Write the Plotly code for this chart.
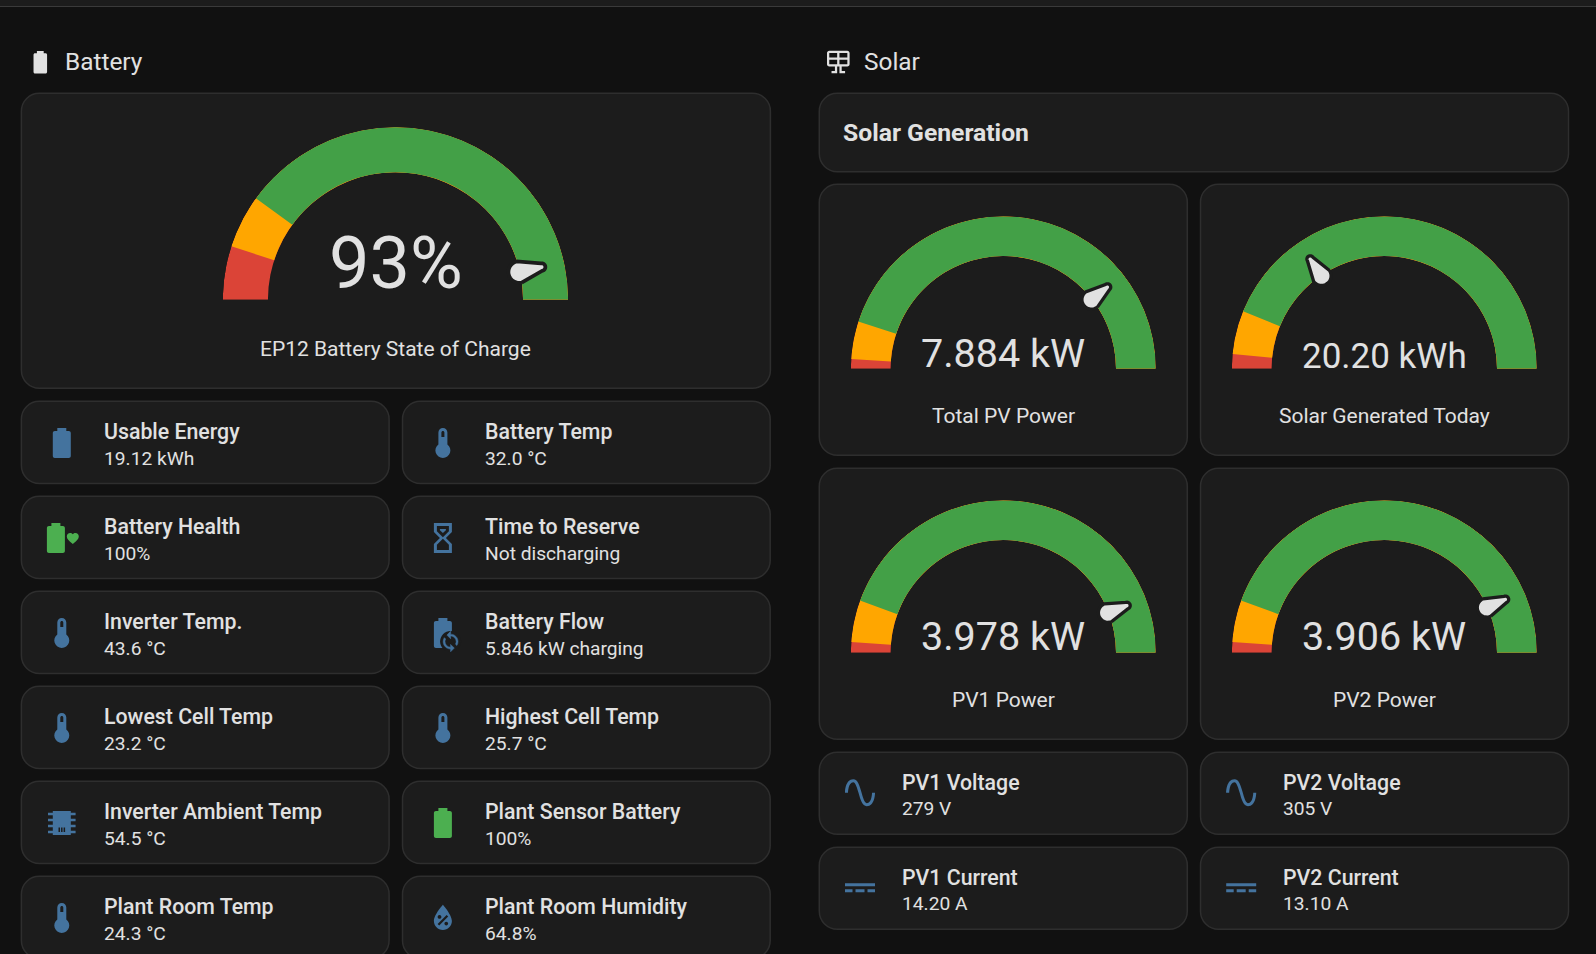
import math
import re
import plotly.graph_objects as go

# ---------- data ----------
section_titles = ["Battery", "Solar"]
solar_heading = "Solar Generation"

gauge_names = ["EP12 Battery State of Charge", "Total PV Power", "Solar Generated Today", "PV1 Power", "PV2 Power"]
gauge_labels = ["93%", "7.884 kW", "20.20 kWh", "3.978 kW", "3.906 kW"]
gauge_values = [93, 7.884, 20.20, 3.978, 3.906]
gauge_max = [100, 10, 65, 4.5, 4.5]
gauge_orange_from = [10, 0.2, 2, 0.1, 0.1]
gauge_green_from = [20, 1, 8, 0.5, 0.5]

battery_tile_names = ["Usable Energy", "Battery Temp", "Battery Health", "Time to Reserve", "Inverter Temp.",
                      "Battery Flow", "Lowest Cell Temp", "Highest Cell Temp", "Inverter Ambient Temp",
                      "Plant Sensor Battery", "Plant Room Temp", "Plant Room Humidity"]
battery_tile_values = ["19.12 kWh", "32.0 °C", "100%", "Not discharging", "43.6 °C", "5.846 kW charging",
                       "23.2 °C", "25.7 °C", "54.5 °C", "100%", "24.3 °C", "64.8%"]
battery_tile_icons = ["battery", "thermo", "batheart", "sand", "thermo", "batsync", "thermo", "thermo",
                      "chip", "battery", "thermo", "water"]
battery_tile_green = [False, False, True, False, False, False, False, False, False, True, False, False]

pv_tile_names = ["PV1 Voltage", "PV2 Voltage", "PV1 Current", "PV2 Current"]
pv_tile_values = ["279 V", "305 V", "14.20 A", "13.10 A"]
pv_tile_icons = ["sine", "sine", "dc", "dc"]

# ---------- style ----------
W, H = 1596, 954
PAGE = "#111111"
CARD = "#1c1c1c"
BORDER = "#2e2e2e"
TEXT = "#e1e1e1"
BLUE = "#44739e"
TILE_GREEN = "#4caf50"
RED, ORANGE, GREEN = "#db4437", "#ffa600", "#43a047"
FONT = "Roboto"

# gauge geometry (px): centre x, baseline y, outer radius, value font size, value y, name y
gauge_geom = [
    (395.5, 299.7, 172.6, 72, 264.0, 349.0),
    (1003.3, 368.7, 152.5, 39.5, 353.5, 415.7),
    (1384.3, 368.7, 152.5, 35, 356.0, 415.7),
    (1003.3, 652.7, 152.5, 39.5, 636.0, 700.0),
    (1384.3, 652.7, 152.5, 39.5, 636.0, 700.0),
]
RING_OUT, RING_IN = 46.0, 34.0  # gauge units

# ---------- icon glyphs on a 24-unit grid ----------
P_BATTERY = "M16.67,4H15V2H9V4H7.33A1.33,1.33 0 0,0 6,5.33V20.67C6,21.4 6.6,22 7.33,22H16.67A1.33,1.33 0 0,0 18,20.67V5.33C18,4.6 17.4,4 16.67,4Z"
P_THERMO = "M15 13V5A3 3 0 0 0 9 5V13A5 5 0 1 0 15 13M12 4A1 1 0 0 1 13 5V8H11V5A1 1 0 0 1 12 4Z"
P_SAND = "M6,2H18V8L14,12L18,16V22H6V16L10,12L6,8V2M16,16.5L12,12.5L8,16.5V20H16V16.5M12,11.5L16,7.5V4H8V7.5L12,11.5M10,6H14V6.75L12,8.75L10,6.75V6Z"
P_SINE = "M16.5,21C13.5,21 12.31,16.76 11.05,12.28C10.14,9.04 9,5 7.5,5C4.11,5 4,11.93 4,12H2C2,11.63 2.06,3 7.5,3C10.5,3 11.71,7.25 12.97,11.74C13.83,14.8 15,19 16.5,19C19.94,19 20.03,12.07 20.03,12H22.03C22.03,12.37 21.97,21 16.5,21Z"
P_DC = "M2,9H22V11H2V9M2,13H7V15H2V13M9,13H15V15H9V13M17,13H22V15H17V13Z"
P_SOLAR = "M4,2H20A2,2 0 0,1 22,4V14A2,2 0 0,1 20,16H15V20H18V22H13V16H11V22H6V20H9V16H4A2,2 0 0,1 2,14V4A2,2 0 0,1 4,2M4,4V8H11V4H4M4,14H11V10H4V14M20,14V10H13V14H20M20,4H13V8H20V4Z"
P_WATER = "M12,3.25C12,3.25 6,10 6,14C6,17.32 8.69,20 12,20A6,6 0 0,0 18,14C18,10 12,3.25 12,3.25M14.47,9.97L15.53,11.03L9.53,17.03L8.47,15.97M9.75,10A1.25,1.25 0 0,1 11,11.25A1.25,1.25 0 0,1 9.75,12.5A1.25,1.25 0 0,1 8.5,11.25A1.25,1.25 0 0,1 9.75,10M14.25,14.5A1.25,1.25 0 0,1 15.5,15.75A1.25,1.25 0 0,1 14.25,17A1.25,1.25 0 0,1 13,15.75A1.25,1.25 0 0,1 14.25,14.5Z"
P_HEART = "M12,21.35L10.55,20.03C5.4,15.36 2,12.27 2,8.5C2,5.41 4.42,3 7.5,3C9.24,3 10.91,3.81 12,5.08C13.09,3.81 14.76,3 16.5,3C19.58,3 22,5.41 22,8.5C22,12.27 18.6,15.36 13.45,20.03L12,21.35Z"
P_SYNC = "M12,18A6,6 0 0,1 6,12C6,11 6.25,10.03 6.7,9.2L5.24,7.74C4.46,8.97 4,10.43 4,12A8,8 0 0,0 12,20V23L16,19L12,15V18M12,6A6,6 0 0,1 18,12C18,13 17.75,13.97 17.3,14.8L18.76,16.26C19.54,15.03 20,13.57 20,12A8,8 0 0,0 12,4V1L8,5L12,9V6Z"
P_DISC = "M12,2A10,10 0 0,1 12,22A10,10 0 0,1 12,2Z"
P_CHIP = ("M6,4H18V20H6ZM9.8,15H10.8V18H9.8ZM11.5,15H12.5V18H11.5ZM13.2,15H14.2V18H13.2Z"
          "M2.8,5.2H6V6.8H2.8ZM2.8,9.2H6V10.8H2.8ZM2.8,13.2H6V14.8H2.8ZM2.8,17.2H6V18.8H2.8Z"
          "M18,5.2H21.2V6.8H18ZM18,9.2H21.2V10.8H18ZM18,13.2H21.2V14.8H18ZM18,17.2H21.2V18.8H18Z")

# each glyph part: path, scale multiplier, dx px, dy px, use card colour, outline width
ICONS = {
    "battery": [(P_BATTERY, 1, 0, 0, False, 0)],
    "thermo": [(P_THERMO, 1, 0, 0, False, 0)],
    "sand": [(P_SAND, 1, 0, 0, False, 0)],
    "sine": [(P_SINE, 1, 0, 0, False, 0)],
    "dc": [(P_DC, 1, 0, 0, False, 0)],
    "solar": [(P_SOLAR, 1, 0, 0, False, 0)],
    "water": [(P_WATER, 1, 0, 0, False, 0)],
    "chip": [(P_CHIP, 1, 0, 0, False, 0)],
    "batheart": [(P_BATTERY, 1, -5.9, 0, False, 0), (P_HEART, 0.4, 11, 0.5, False, 0)],
    "batsync": [(P_BATTERY, 1, 0, 0, False, 0), (P_DISC, 0.7, 7.7, 8.6, True, 0), (P_SYNC, 0.62, 7.7, 8.6, False, 0.5)],
}


def arc_to_cubics(x0, y0, rx, ry, large, sweep, x1, y1):
    """SVG endpoint arc (circular, no rotation) as cubic segments."""
    dx, dy = (x0 - x1) / 2, (y0 - y1) / 2
    r = max(rx, math.hypot(dx, dy))
    q = math.sqrt(max(0.0, r * r - dx * dx - dy * dy) / max(dx * dx + dy * dy, 1e-12))
    s = -q if large == sweep else q
    cx = s * dy + (x0 + x1) / 2
    cy = -s * dx + (y0 + y1) / 2
    a0 = math.atan2(y0 - cy, x0 - cx)
    a1 = math.atan2(y1 - cy, x1 - cx)
    da = a1 - a0
    if sweep and da < 0:
        da += 2 * math.pi
    if not sweep and da > 0:
        da -= 2 * math.pi
    n = max(1, math.ceil(abs(da) / (math.pi / 2)))
    out = []
    step = da / n
    k = 4 / 3 * math.tan(step / 4)
    for i in range(n):
        a = a0 + i * step
        b = a + step
        out.append((cx + r * (math.cos(a) - k * math.sin(a)), cy + r * (math.sin(a) + k * math.cos(a)),
                    cx + r * (math.cos(b) + k * math.sin(b)), cy + r * (math.sin(b) - k * math.cos(b)),
                    cx + r * math.cos(b), cy + r * math.sin(b)))
    return out


def transform_path(path, fx):
    """Turn an absolute SVG path into a path in paper coordinates; fx maps grid -> page px."""
    res, cur, start = [], (0.0, 0.0), (0.0, 0.0)

    def pt(x, y):
        px, py = fx(x, y)
        return f"{px / W:.6f},{1 - py / H:.6f}"

    for cmd, body in re.findall(r"([MLHVCQAZ])([^MLHVCQAZ]*)", path):
        v = [float(t) for t in re.findall(r"-?\d*\.?\d+", body)]
        if cmd == "Z":
            res.append("Z")
            cur = start
        elif cmd in "ML":
            for i in range(0, len(v), 2):
                cur = (v[i], v[i + 1])
                res.append(("M" if cmd == "M" and i == 0 else "L") + pt(*cur))
            if cmd == "M":
                start = (v[0], v[1])
        elif cmd == "H":
            for x in v:
                cur = (x, cur[1])
                res.append("L" + pt(*cur))
        elif cmd == "V":
            for y in v:
                cur = (cur[0], y)
                res.append("L" + pt(*cur))
        elif cmd == "C":
            for i in range(0, len(v), 6):
                res.append("C" + pt(v[i], v[i + 1]) + " " + pt(v[i + 2], v[i + 3]) + " " + pt(v[i + 4], v[i + 5]))
                cur = (v[i + 4], v[i + 5])
        elif cmd == "A":
            for i in range(0, len(v), 7):
                x1, y1 = v[i + 5], v[i + 6]
                for c in arc_to_cubics(cur[0], cur[1], v[i], v[i + 1], int(v[i + 3]), int(v[i + 4]), x1, y1):
                    res.append("C" + pt(c[0], c[1]) + " " + pt(c[2], c[3]) + " " + pt(c[4], c[5]))
                cur = (x1, y1)
    return "".join(res)


shapes, annotations = [], []


def card(x0, y0, x1, y1, r=18):
    p = (f"M{x0 + r},{y0}H{x1 - r}A{r},{r} 0 0,1 {x1},{y0 + r}V{y1 - r}A{r},{r} 0 0,1 {x1 - r},{y1}"
         f"H{x0 + r}A{r},{r} 0 0,1 {x0},{y1 - r}V{y0 + r}A{r},{r} 0 0,1 {x0 + r},{y0}Z")
    shapes.append(dict(type="path", xref="paper", yref="paper", layer="below",
                       path=transform_path(p, lambda x, y: (x, y)),
                       fillcolor=CARD, line=dict(color=BORDER, width=1.5)))


def icon(name, cx, cy, color=BLUE, unit=1.5):
    for path, mult, dx, dy, is_bg, lw in ICONS[name]:
        u = unit * mult
        f = lambda x, y, u=u, dx=dx, dy=dy: (cx + dx + (x - 12) * u, cy + dy + (y - 12) * u)
        c = CARD if is_bg else color
        shapes.append(dict(type="path", xref="paper", yref="paper", layer="above",
                           path=transform_path(path, f), fillrule="evenodd",
                           fillcolor=c, line=dict(width=lw, color=c)))


def text(s, x, y, size, anchor="left", weight=400, color=TEXT):
    annotations.append(dict(text=s, x=x / W, y=1 - y / H, xref="paper", yref="paper", showarrow=False,
                            xanchor=anchor, yanchor="middle", align=anchor,
                            font=dict(family=FONT, size=size, color=color, weight=weight)))


# top bar
shapes.append(dict(type="rect", xref="paper", yref="paper", layer="below", x0=0, x1=1, y0=1 - 6 / H, y1=1,
                   fillcolor="#1c1c1c", line=dict(width=0)))
shapes.append(dict(type="rect", xref="paper", yref="paper", layer="below", x0=0, x1=1, y0=1 - 7 / H, y1=1 - 6 / H,
                   fillcolor="#3a3a3a", line=dict(width=0)))

# section headings
icon("battery", 40.3, 62.3, color=TEXT, unit=1.13)
text(section_titles[0], 63.2, 61.4, 24.4)
icon("solar", 838.3, 62.0, color=TEXT, unit=1.13)
text(section_titles[1], 861.8, 61.4, 24.4)

# big cards
card(21.4, 93.3, 770.4, 388.3)
card(819.3, 93.3, 1568.5, 171.7)
text(solar_heading, 841.5, 132.6, 24.7, weight=700)
for x0, x1 in ((819.3, 1187.3), (1200.5, 1568.5)):
    card(x0, 184.3, x1, 455.3)
    card(x0, 468.3, x1, 739.3)

# battery tiles
for i, (nm, val, ic, gr) in enumerate(zip(battery_tile_names, battery_tile_values, battery_tile_icons, battery_tile_green)):
    col, row = i % 2, i // 2
    x0 = (21.4, 402.5)[col]
    y0 = 401.3 + row * 95.0
    card(x0, y0, x0 + 367.7, y0 + 82.3)
    icon(ic, x0 + 40.4, y0 + 41.7, color=TILE_GREEN if gr else BLUE)
    text(nm, x0 + 80.6, y0 + 30.4, 21.3, weight=500)
    text(val, x0 + 80.6, y0 + 57.0, 19.2)

# pv tiles
for i, (nm, val, ic) in enumerate(zip(pv_tile_names, pv_tile_values, pv_tile_icons)):
    col, row = i % 2, i // 2
    x0 = (819.3, 1200.5)[col]
    y0 = 752.3 + row * 95.0
    card(x0, y0, x0 + 368.0, y0 + 82.0)
    icon(ic, x0 + 40.7, y0 + 40.4)
    text(nm, x0 + 80.6, y0 + 30.4, 21.3, weight=500)
    text(val, x0 + 80.6, y0 + 56.4, 19.2)

# ---------- gauges ----------
fig = go.Figure()
polars = {}


def to_theta(v, vmax):
    return 180.0 * min(max(v / vmax, 0), 1)


def needle_points(theta):
    """Teardrop needle in gauge units, returned as polar r/theta."""
    base_u, base_r = 33.8, 2.9
    tip_u, tip_r = 39.9, 1.0
    pts = []
    for k in range(17):
        a = math.pi * k / 16
        pts.append((base_u - base_r * math.sin(a), base_r * math.cos(a)))
    for k in range(17):
        a = -math.pi / 2 + math.pi * k / 16
        pts.append((tip_u + tip_r * math.cos(a), tip_r * math.sin(a)))
    rs, ts = [], []
    for u, w in pts:
        rs.append(math.hypot(u, w))
        ts.append(theta + math.degrees(math.atan2(w, u)))
    rs.append(rs[0])
    ts.append(ts[0])
    return rs, ts


for i, (nm, lab, val, vmax, orange, green, geom) in enumerate(
        zip(gauge_names, gauge_labels, gauge_values, gauge_max, gauge_orange_from, gauge_green_from, gauge_geom)):
    cx, cy, R, vsize, vy, ny = geom
    sub = "polar" if i == 0 else f"polar{i + 1}"
    polars[sub] = dict(
        domain=dict(x=[(cx - R) / W, (cx + R) / W], y=[1 - cy / H, 1 - (cy - R) / H]),
        sector=[0, 180], bgcolor="rgba(0,0,0,0)", hole=0,
        radialaxis=dict(range=[0, RING_OUT], visible=False),
        angularaxis=dict(visible=False, rotation=180, direction="clockwise", thetaunit="degrees"),
    )
    # ring: red from zero, orange and green painted over from their thresholds
    for start, col in ((0, RED), (orange, ORANGE), (green, GREEN)):
        t0, t1 = to_theta(start, vmax), 180.0
        fig.add_trace(go.Barpolar(r=[RING_OUT - RING_IN], base=[RING_IN], theta=[(t0 + t1) / 2], width=[t1 - t0],
                                  marker=dict(color=col, line=dict(width=0)), subplot=sub,
                                  hoverinfo="skip", showlegend=False))
    rs, ts = needle_points(to_theta(val, vmax))
    fig.add_trace(go.Scatterpolar(r=rs, theta=ts, mode="lines", fill="toself", fillcolor=TEXT,
                                  line=dict(color=CARD, width=R / RING_OUT),
                                  subplot=sub, hoverinfo="skip", showlegend=False))
    text(lab, cx, vy, vsize, anchor="center")
    text(nm, cx, ny, 21, anchor="center")

fig.update_layout(
    width=W, height=H, margin=dict(l=0, r=0, t=0, b=0, pad=0), autosize=False,
    paper_bgcolor=PAGE, plot_bgcolor=PAGE, showlegend=False,
    shapes=shapes, annotations=annotations, barmode="overlay",
    font=dict(family=FONT, color=TEXT), **polars,
)

fig.write_html("out.html", config=dict(displayModeBar=False),
               post_script="document.body.style.margin='0';document.body.style.background='#111111';document.documentElement.style.overflow='hidden';")
